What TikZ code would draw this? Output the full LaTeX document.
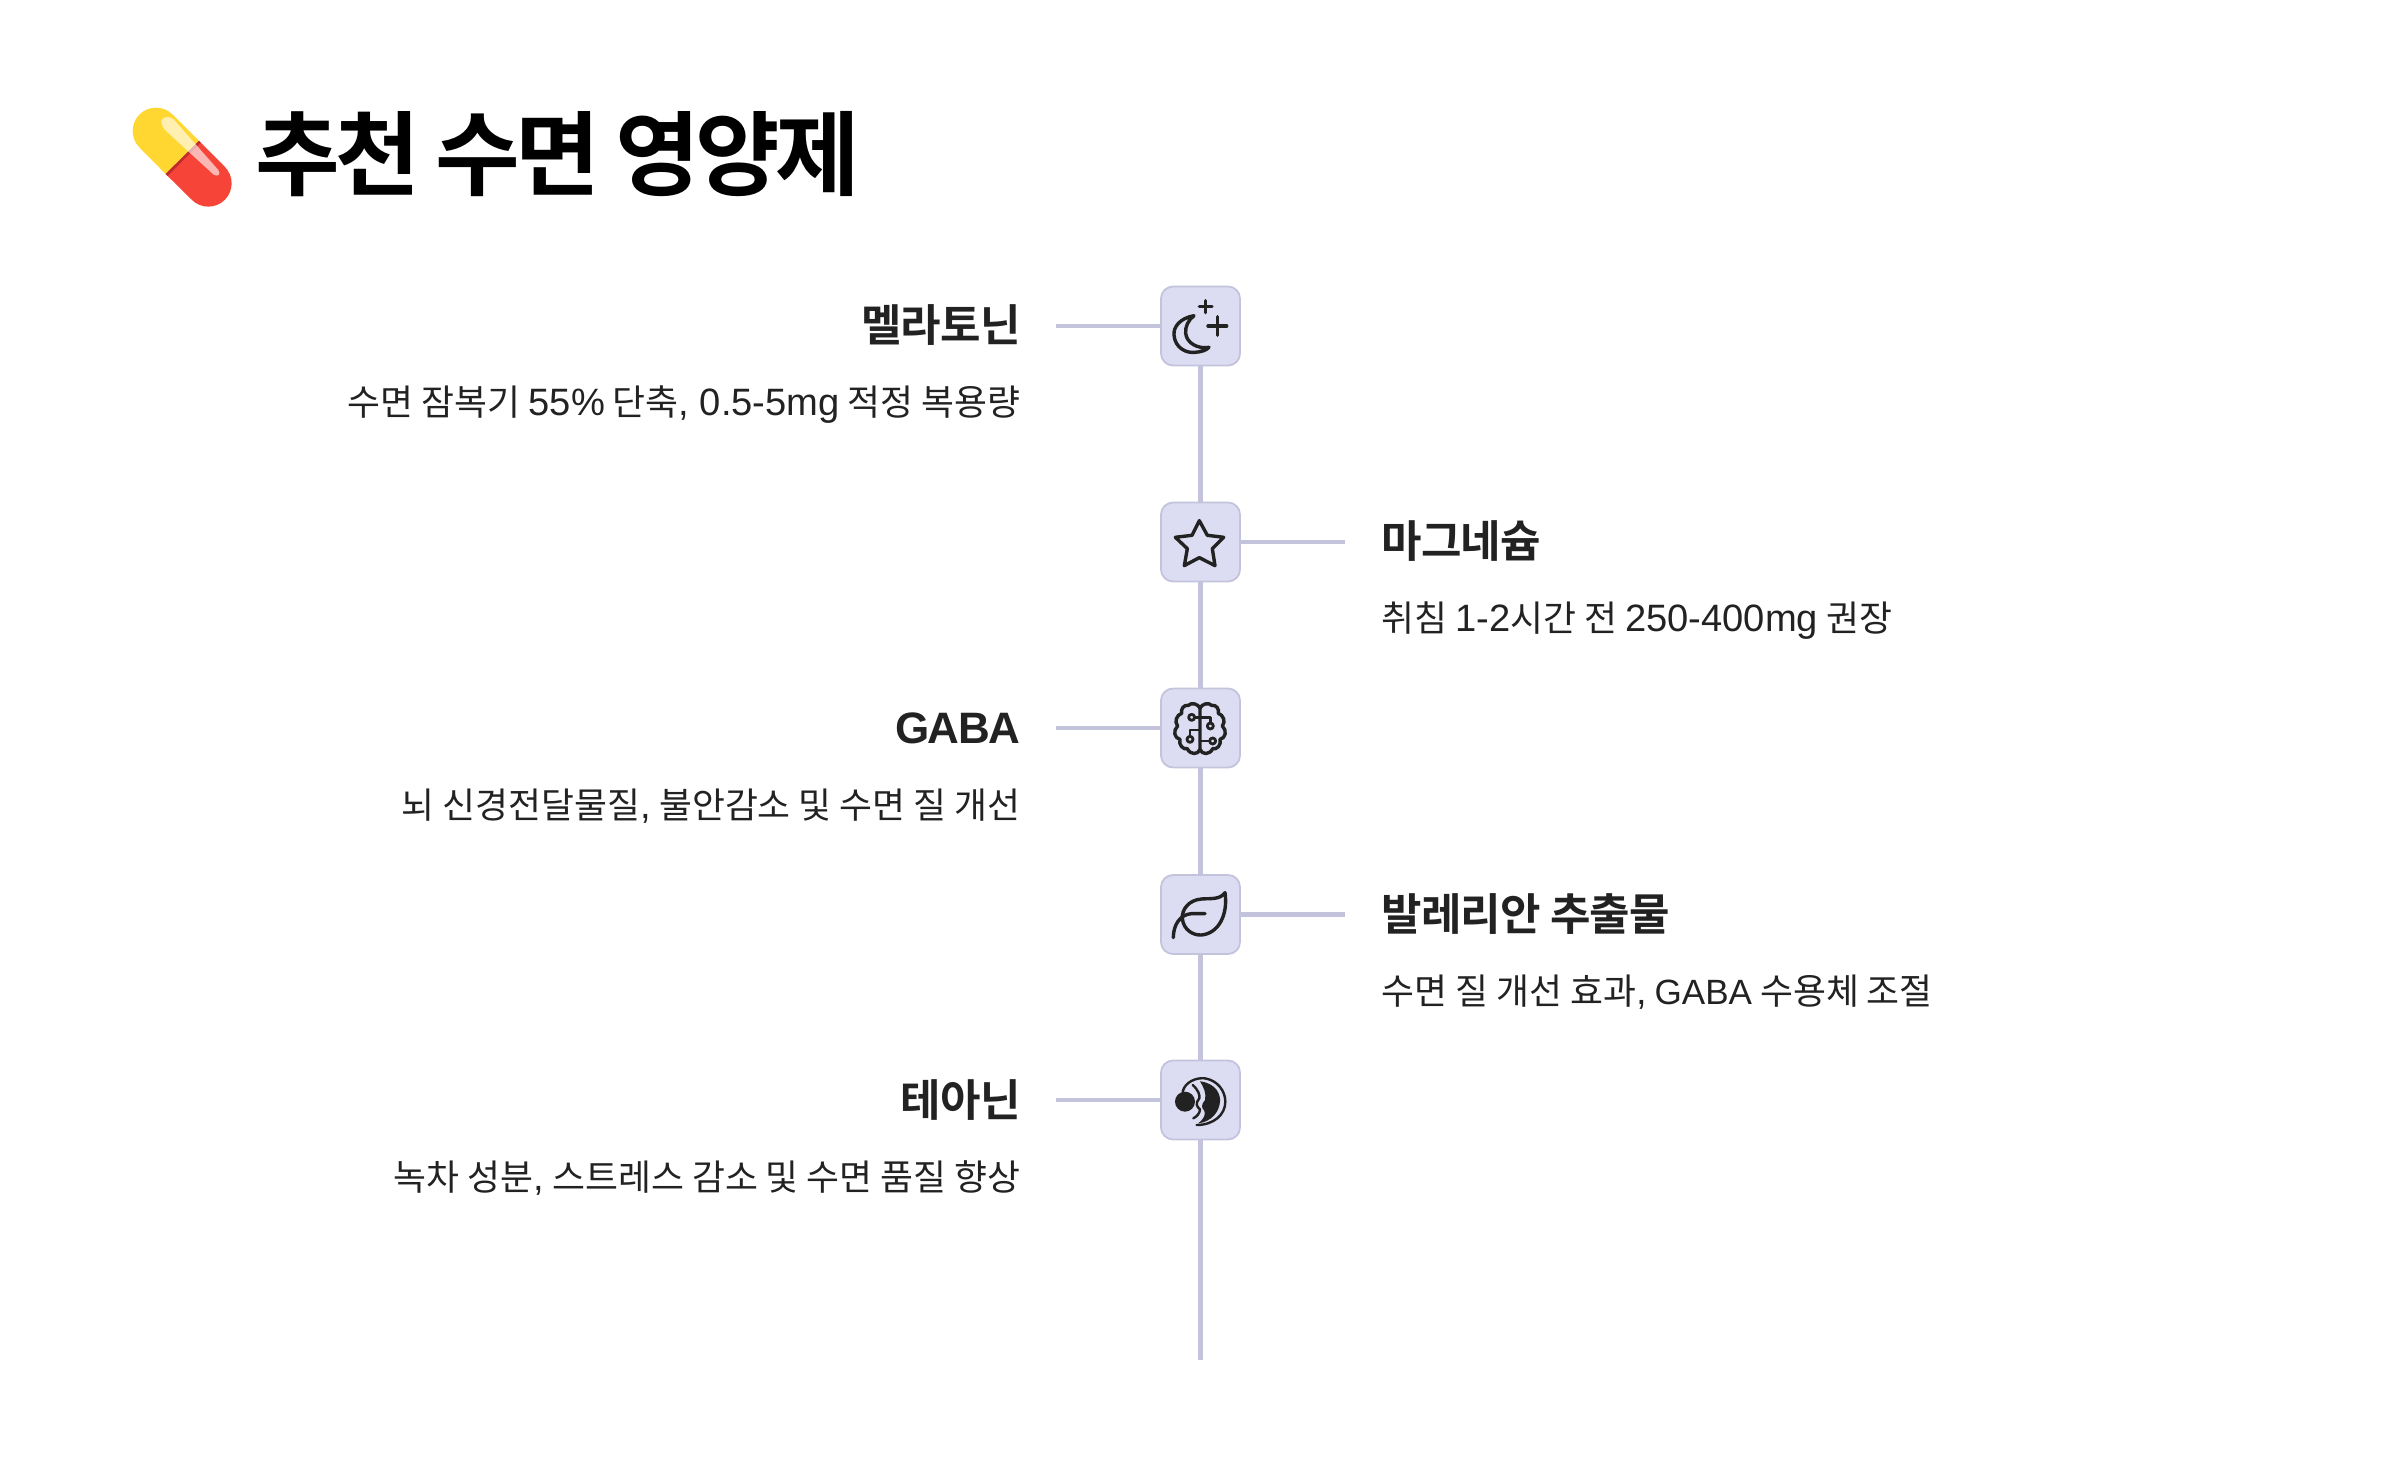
\documentclass[tikz,border=0pt]{standalone}
\usepackage{fontspec}
\setmainfont{Noto Sans CJK KR}
\newfontfamily\tfont[LetterSpace=-5.5]{Noto Sans CJK KR Bold}
\newfontfamily\hfontb[LetterSpace=-1.8]{Noto Sans CJK KR Bold}
\newfontfamily\dfont{Noto Sans CJK KR}
\newfontfamily\latd[Scale=1.065]{Liberation Sans}
\newfontfamily\latg[Scale=0.98]{Liberation Sans}
\newfontfamily\lath[Scale=1.0,LetterSpace=-3]{Liberation Sans Bold}
\newcommand{\La}[1]{{\latd #1}}
\newcommand{\Lg}[1]{{\latg #1}}
\definecolor{boxfill}{HTML}{DCDCF2}
\definecolor{boxline}{HTML}{C4C3DC}
\definecolor{ink}{HTML}{222222}
\definecolor{capyellow}{HTML}{FFD730}
\definecolor{capred}{HTML}{F64438}
\definecolor{capdark}{HTML}{BE2D2D}
\tikzset{
 iconbox/.style={draw=boxline,fill=boxfill,line width=0.9pt,rounded corners=6pt,minimum size=39.5pt,inner sep=0pt},
 conn/.style={draw=boxline,line width=2.2pt},
 ttl/.style={anchor=base west,inner sep=0pt,font=\tfont\fontsize{46}{50}\selectfont,text=black},
 hdl/.style={anchor=base east,inner sep=0pt,font=\hfontb\fontsize{22}{26}\selectfont,text=ink},
 hdr/.style={anchor=base west,inner sep=0pt,font=\hfontb\fontsize{22}{26}\selectfont,text=ink},
 dtl/.style={anchor=base east,inner sep=0pt,font=\dfont\fontsize{17.9}{22}\selectfont,text=ink},
 dtr/.style={anchor=base west,inner sep=0pt,font=\dfont\fontsize{17.9}{22}\selectfont,text=ink},
 ico/.style={draw=ink,line width=1.7pt,line cap=round,line join=round,fill=none},
}
\begin{document}
\begin{tikzpicture}[x=0.5pt,y=-0.5pt]
\useasboundingbox (0,0) rectangle (2400,1460);
% capsule
\begin{scope}[shift={(125,100)},scale=0.3333]
\fill[capyellow] (122,222) -- (43.5,142.5) .. controls (16.2,115.2) and (16.2,70.8) .. (43.5,43.5) .. controls (70.8,16.2) and (115.2,16.2) .. (142.5,43.5) -- (222,123) -- cycle;
\fill[capred] (222,123) -- (299.5,200.5) .. controls (326.8,227.8) and (326.8,272.2) .. (299.5,299.5) .. controls (272.2,326.8) and (227.8,326.8) .. (200.5,299.5) -- (122,222) -- cycle;
\fill[capdark] (122,222) -- (222,123) -- (227,128) -- (128,228) -- cycle;
\fill[white,opacity=.62] (110,72) .. controls (104,52) and (128,44) .. (146,58) -- (280,210) .. controls (288,222) and (280,232) .. (266,224) -- (122,92) .. controls (116,85) and (112,80) .. (110,72) -- cycle;
\end{scope}
\node[ttl] (title) at (255.5,189) {추천 수면 영양제};
% boxes
\node[iconbox] (b1) at (1200.5,326) {};
\node[iconbox] (b2) at (1200.5,542) {};
\node[iconbox] (b3) at (1200.5,728) {};
\node[iconbox] (b4) at (1200.5,914.5) {};
\node[iconbox] (b5) at (1200.5,1100) {};
\coordinate (endv) at (1200.5,1360);
\coordinate (e1) at (1056,326);
\coordinate (e2) at (1345,542);
\coordinate (e3) at (1056,728);
\coordinate (e4) at (1345,914.5);
\coordinate (e5) at (1056,1100);
\draw[conn] (b1) -- (b2);
\draw[conn] (b2) -- (b3);
\draw[conn] (b3) -- (b4);
\draw[conn] (b4) -- (b5);
\draw[conn] (b5) -- (endv);
\draw[conn] (e1) -- (b1);
\draw[conn] (b2) -- (e2);
\draw[conn] (e3) -- (b3);
\draw[conn] (b4) -- (e4);
\draw[conn] (e5) -- (b5);
% texts
\node[hdl] (h1) at (1021,342) {멜라토닌};
\node[dtl] (d1) at (1021,416) {수면 잠복기 \La{55\%} 단축\La{, 0.5-5mg} 적정 복용량};
\node[hdr] (h2) at (1381,558) {마그네슘};
\node[dtr] (d2) at (1381,632) {취침 \La{1-2}시간 전 \La{250-400mg} 권장};
\node[hdl] (h3) at (1021,743) {{\lath GABA}};
\node[dtl] (d3) at (1021,818) {뇌 신경전달물질\La{,} 불안감소 및 수면 질 개선};
\node[hdr] (h4) at (1381,930) {발레리안 추출물};
\node[dtr] (d4) at (1381,1004) {수면 질 개선 효과\La{,} \Lg{GABA} 수용체 조절};
\node[hdl] (h5) at (1021,1116) {테아닌};
\node[dtl] (d5) at (1021,1190) {녹차 성분\La{,} 스트레스 감소 및 수면 품질 향상};
% moon
\begin{scope}[shift={(1130,270)},scale=0.3333]
\draw[ico] (192,137) .. controls (150,145) and (130,170) .. (132,195) .. controls (135,235) and (170,250) .. (195,247) .. controls (215,246) and (230,240) .. (237,232) .. controls (205,238) and (170,220) .. (167,190) .. controls (165,170) and (175,150) .. (192,137) -- cycle;
\draw[ico] (234,168) -- (290,168) (262,140) -- (262,196) (208,110) -- (246,110) (227,92) -- (227,128);
% star
\draw[ico] (208,752) -- (232,796) -- (281,802) -- (247,836) -- (255,887) -- (208,863) -- (163,887) -- (172,836) -- (136,802) -- (186,796) -- cycle;
\end{scope}
% brain
\begin{scope}[shift={(1130,670)},scale=0.3333]
\draw[ico] (210,115) .. controls (205,102) and (185,96) .. (175,106) .. controls (160,104) and (152,118) .. (155,130) .. controls (140,135) and (132,155) .. (143,168) .. controls (128,182) and (133,205) .. (150,208) .. controls (145,225) and (160,240) .. (172,236) .. controls (180,255) and (205,255) .. (210,238) -- cycle;
\draw[ico] (210,115) .. controls (215,102) and (235,96) .. (245,106) .. controls (260,104) and (268,118) .. (265,130) .. controls (280,135) and (288,155) .. (277,168) .. controls (292,182) and (287,205) .. (270,208) .. controls (275,225) and (260,240) .. (248,236) .. controls (240,255) and (215,255) .. (210,238);
\draw[ico,line width=1.4pt] (185,142) circle (9);
\draw[ico,line width=1.4pt] (241,168) circle (9);
\draw[ico,line width=1.4pt] (180,208) circle (9);
\draw[ico,line width=1.4pt] (248,213) circle (9);
\draw[ico,line width=1.4pt] (194,142) -- (210,142) (210,142) -- (241,142) -- (241,159) (180,199) -- (180,180) -- (210,180) (210,213) -- (239,213);
% leaf
\draw[ico] (285,668) .. controls (270,690) and (240,685) .. (215,687) .. controls (175,690) and (155,720) .. (157,745) .. controls (160,780) and (190,797) .. (215,795) .. controls (265,790) and (295,735) .. (285,668) -- cycle;
\draw[ico] (225,731) -- (185,731) .. controls (150,733) and (130,765) .. (130,803);
\end{scope}
% theanine icon
\begin{scope}[shift={(1150,1040)},scale=0.3333]
\fill[ink] (105,185) circle (30);
\fill[ink] (150,124) .. controls (200,130) and (212,165) .. (210,185) .. controls (208,215) and (185,245) .. (145,250) .. controls (160,238) and (168,225) .. (163,212) .. controls (155,205) and (152,195) .. (165,180) .. controls (170,160) and (160,140) .. (150,124) -- cycle;
\draw[ico,line width=1.2pt] (98,155) .. controls (105,125) and (140,112) .. (165,115) .. controls (205,122) and (226,155) .. (226,185) .. controls (226,225) and (190,255) .. (140,255);
\draw[ico,line width=1.2pt] (128,135) .. controls (145,150) and (150,165) .. (148,175) .. controls (135,190) and (140,200) .. (150,208) .. controls (150,220) and (140,230) .. (130,235);
\end{scope}
\end{tikzpicture}
\end{document}
